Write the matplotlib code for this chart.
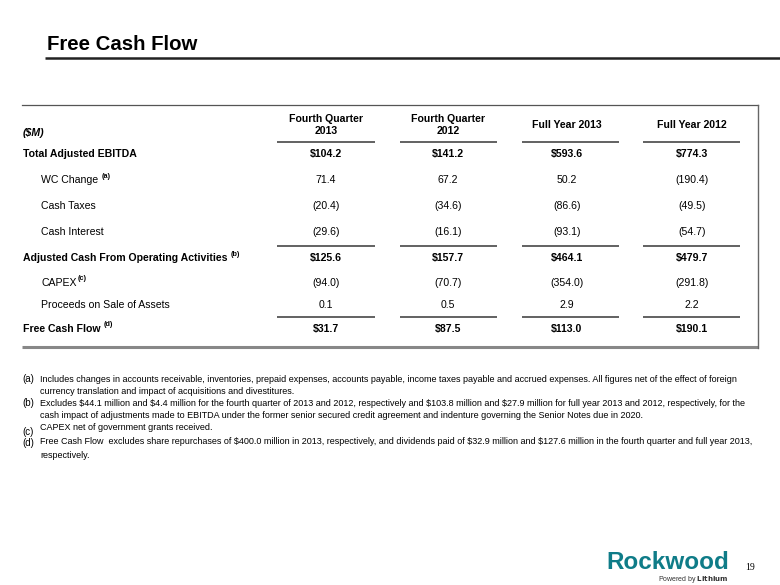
import matplotlib as mpl

mpl.use("agg")

import matplotlib.pyplot as plt
from matplotlib import font_manager

# table data ($M)
row_labels = ["Total Adjusted EBITDA", "WC Change", "Cash Taxes", "Cash Interest",
              "Adjusted Cash From Operating Activities", "CAPEX",
              "Proceeds on Sale of Assets", "Free Cash Flow"]
row_notes = ["", "(a)", "", "", "(b)", "(c)", "", "(d)"]
row_bold = [True, False, False, False, True, False, False, True]
col_headers = ["Fourth Quarter\n2013", "Fourth Quarter\n2012", "Full Year 2013", "Full Year 2012"]
q4_2013 = [104.2, 71.4, -20.4, -29.6, 125.6, -94.0, 0.1, 31.7]
q4_2012 = [141.2, 67.2, -34.6, -16.1, 157.7, -70.7, 0.5, 87.5]
fy_2013 = [593.6, 50.2, -86.6, -93.1, 464.1, -354.0, 2.9, 113.0]
fy_2012 = [774.3, -190.4, -49.5, -54.7, 479.7, -291.8, 2.2, 190.1]
columns = [q4_2013, q4_2012, fy_2013, fy_2012]

footnotes = [
    ("(a)", ["Includes changes in accounts receivable, inventories, prepaid expenses, accounts payable, income taxes payable and accrued expenses. All figures net of the effect of foreign",
             "currency translation and impact of acquisitions and divestitures."]),
    ("(b)", ["Excludes $44.1 million and $4.4 million for the fourth quarter of 2013 and 2012, respectively and $103.8 million and $27.9 million for full year 2013 and 2012, respectively, for the",
             "cash impact of adjustments made to EBITDA under the former senior secured credit agreement and indenture governing the Senior Notes due in 2020."]),
    ("(c)", ["CAPEX net of government grants received."]),
    ("(d)", ["Free Cash Flow  excludes share repurchases of $400.0 million in 2013, respectively, and dividends paid of $32.9 million and $127.6 million in the fourth quarter and full year 2013,",
             "respectively."]),
]

names = {f.name for f in font_manager.fontManager.ttflist}
main_font = "Liberation Sans" if "Liberation Sans" in names else "DejaVu Sans"
narrow_font = "Liberation Sans Narrow" if "Liberation Sans Narrow" in names else main_font
plt.rcParams["font.family"] = [main_font, "DejaVu Sans"]


def fmt(v, bold):
    s = f"{abs(v):.1f}"
    if v < 0:
        return f"({s})"
    return ("$" + s) if bold else s


fig = plt.figure(figsize=(7.8, 5.85), dpi=100)
ax = fig.add_axes([0, 0, 1, 1])
ax.set_xlim(0, 780)
ax.set_ylim(585, 0)
ax.axis("off")

# title
ax.text(47, 44, "Free Cash Flow", fontsize=14.7, fontweight="bold", va="center", ha="left")
ax.plot([45, 780], [58, 58], color="#222222", lw=1.8, solid_capstyle="butt")

# table frame
ax.plot([22, 758], [105, 105], color="#555555", lw=0.9)
ax.plot([22, 758], [347, 347], color="#888888", lw=2.2, solid_capstyle="butt")
ax.plot([758, 758], [105, 348], color="#666666", lw=1.0)

col_x = [326, 448, 567, 692]
line_x = [(277, 375), (400, 497), (522, 619), (643, 740)]
row_y = [154, 180, 206, 232, 258, 283, 305, 329]
fs = 7.6

ax.text(23, 133, "($M)", fontsize=fs, fontweight="bold", style="italic", va="center",
        parse_math=False)
for x, h in zip(col_x, col_headers):
    ax.text(x, 125, h, fontsize=fs, fontweight="bold", ha="center", va="center",
            linespacing=1.15)

for yl in [142, 246, 317]:
    for x0, x1 in line_x:
        ax.plot([x0, x1], [yl, yl], color="#555555", lw=1.3, solid_capstyle="butt")

fig.canvas.draw()
renderer = fig.canvas.get_renderer()
inv = ax.transData.inverted()

for i, lab in enumerate(row_labels):
    bold = row_bold[i]
    x = 23 if bold else 41
    t = ax.text(x, row_y[i], lab, fontsize=fs, fontweight="bold" if bold else "normal",
                va="center", ha="left")
    if row_notes[i]:
        bb = t.get_window_extent(renderer)
        xr = inv.transform((bb.x1, bb.y1))[0]
        ax.text(xr + (3 if row_notes[i] != "(c)" else 1), row_y[i] - 4, row_notes[i],
                fontsize=5.2, fontweight="bold", va="center", ha="left")
    for x, col in zip(col_x, columns):
        ax.text(x, row_y[i], fmt(col[i], bold), fontsize=fs, parse_math=False,
                fontweight="bold" if bold else "normal", ha="center", va="center")

# footnotes
note_y = {"(a)": [379, 392], "(b)": [403, 416], "(c)": [428], "(d)": [442, 455]}
label_y = {"(a)": 379, "(b)": 403, "(c)": 432, "(d)": 443}
nfs = 7.0
t = ax.text(40, 379, footnotes[3][1][0], fontsize=nfs, family=narrow_font, va="center",
            parse_math=False)
bb = t.get_window_extent(renderer)
w = inv.transform((bb.x1, 0))[0] - inv.transform((bb.x0, 0))[0]
nfs = nfs * 710.0 / w
t.remove()
for lab, lines in footnotes:
    ax.text(22, label_y[lab], lab, fontsize=7.0, va="center")
    for ln, y in zip(lines, note_y[lab]):
        ax.text(40, y, ln, fontsize=nfs, family=narrow_font, va="center", parse_math=False)

# logo + page number
ax.text(729, 569, "Rockwood", fontsize=17.5, fontweight="bold", color="#0f7c88",
        ha="right", va="baseline")
ax.text(728, 579.5, "Powered by $\\bf{Lithium}$", fontsize=5, color="#333333",
        ha="right", va="center")
ax.text(745, 568, "19", fontsize=7, family=["Liberation Serif", "DejaVu Serif"],
        va="center", ha="left")

fig.savefig("out.png", dpi=100)
